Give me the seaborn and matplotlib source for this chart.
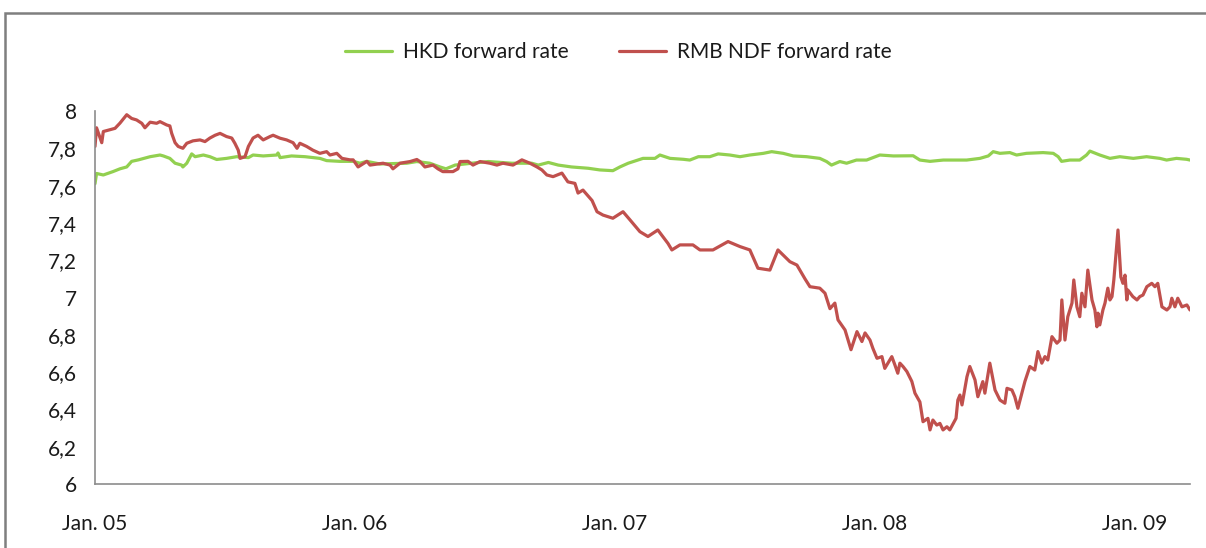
import matplotlib

matplotlib.use("Agg")
import matplotlib.pyplot as plt
import numpy as np
import pandas as pd
import seaborn as sns
from matplotlib.patches import Rectangle
from matplotlib.ticker import FuncFormatter, MultipleLocator

###############
# DATA        #
###############
# time is given in years elapsed since 1 Jan 2005
HKD_YEARS = [
    0.000, 0.006, 0.032, 0.069, 0.096, 0.122, 0.141, 0.167, 0.212, 0.250,
    0.263, 0.288, 0.308, 0.333, 0.338, 0.353, 0.372, 0.385, 0.417, 0.442,
    0.468, 0.506, 0.545, 0.590, 0.608, 0.647, 0.699, 0.704, 0.712, 0.756,
    0.808, 0.865, 0.891, 0.942, 0.994, 1.019, 1.045, 1.096, 1.199, 1.238,
    1.288, 1.327, 1.350, 1.385, 1.449, 1.513, 1.603, 1.680, 1.705, 1.744,
    1.782, 1.833, 1.897, 1.942, 1.992, 2.019, 2.051, 2.108, 2.154, 2.173,
    2.212, 2.263, 2.288, 2.321, 2.365, 2.397, 2.442, 2.481, 2.519, 2.571,
    2.603, 2.647, 2.686, 2.737, 2.788, 2.814, 2.833, 2.865, 2.891, 2.929,
    2.968, 3.019, 3.071, 3.147, 3.173, 3.212, 3.263, 3.353, 3.404, 3.436,
    3.455, 3.481, 3.519, 3.545, 3.583, 3.647, 3.686, 3.705, 3.718, 3.750,
    3.788, 3.814, 3.827, 3.865, 3.904, 3.942, 3.994, 4.045, 4.096, 4.122,
    4.160, 4.199, 4.212,
]
HKD_RATE = [
    7.610, 7.665, 7.657, 7.675, 7.690, 7.700, 7.730, 7.738, 7.755, 7.764,
    7.759, 7.746, 7.720, 7.710, 7.700, 7.720, 7.770, 7.755, 7.764, 7.755,
    7.740, 7.746, 7.755, 7.750, 7.764, 7.759, 7.764, 7.775, 7.750, 7.759,
    7.755, 7.746, 7.734, 7.730, 7.730, 7.720, 7.730, 7.716, 7.720, 7.729,
    7.720, 7.700, 7.690, 7.710, 7.720, 7.729, 7.720, 7.720, 7.710, 7.724,
    7.710, 7.700, 7.693, 7.684, 7.680, 7.700, 7.720, 7.746, 7.746, 7.764,
    7.746, 7.741, 7.737, 7.755, 7.755, 7.770, 7.764, 7.755, 7.764, 7.773,
    7.782, 7.773, 7.759, 7.755, 7.746, 7.729, 7.710, 7.729, 7.720, 7.737,
    7.737, 7.764, 7.759, 7.760, 7.737, 7.730, 7.737, 7.737, 7.746, 7.759,
    7.782, 7.773, 7.777, 7.764, 7.773, 7.777, 7.773, 7.755, 7.730, 7.737,
    7.737, 7.764, 7.785, 7.764, 7.746, 7.755, 7.746, 7.755, 7.746, 7.737,
    7.746, 7.741, 7.737,
]

RMB_YEARS = [
    0.000, 0.006, 0.026, 0.032, 0.058, 0.077, 0.096, 0.122, 0.141, 0.160,
    0.180, 0.192, 0.212, 0.237, 0.250, 0.276, 0.288, 0.295, 0.308, 0.320,
    0.338, 0.353, 0.377, 0.404, 0.423, 0.442, 0.462, 0.481, 0.506, 0.526,
    0.538, 0.551, 0.558, 0.577, 0.590, 0.608, 0.627, 0.647, 0.673, 0.685,
    0.712, 0.737, 0.762, 0.777, 0.788, 0.814, 0.838, 0.865, 0.891, 0.904,
    0.930, 0.950, 0.981, 0.993, 1.012, 1.046, 1.058, 1.108, 1.135, 1.146,
    1.173, 1.212, 1.238, 1.250, 1.269, 1.300, 1.319, 1.338, 1.377, 1.396,
    1.404, 1.435, 1.454, 1.481, 1.519, 1.546, 1.569, 1.608, 1.642, 1.673,
    1.700, 1.719, 1.738, 1.762, 1.796, 1.819, 1.846, 1.858, 1.877, 1.912,
    1.931, 1.954, 1.992, 2.031, 2.058, 2.096, 2.127, 2.165, 2.204, 2.219,
    2.250, 2.300, 2.327, 2.377, 2.435, 2.481, 2.519, 2.550, 2.596, 2.627,
    2.673, 2.700, 2.731, 2.750, 2.788, 2.808, 2.827, 2.846, 2.858, 2.885,
    2.908, 2.931, 2.950, 2.962, 2.981, 2.992, 3.008, 3.027, 3.038, 3.065,
    3.077, 3.088, 3.096, 3.108, 3.123, 3.142, 3.154, 3.173, 3.185, 3.204,
    3.212, 3.223, 3.238, 3.250, 3.262, 3.277, 3.288, 3.312, 3.319, 3.327,
    3.335, 3.354, 3.365, 3.385, 3.396, 3.415, 3.423, 3.442, 3.462, 3.481,
    3.500, 3.508, 3.527, 3.538, 3.550, 3.565, 3.577, 3.596, 3.615, 3.627,
    3.642, 3.654, 3.665, 3.681, 3.700, 3.712, 3.719, 3.731, 3.742, 3.758,
    3.765, 3.777, 3.788, 3.796, 3.808, 3.819, 3.835, 3.846, 3.854, 3.858,
    3.865, 3.877, 3.885, 3.896, 3.904, 3.912, 3.919, 3.935, 3.946, 3.954,
    3.962, 3.969, 3.973, 3.992, 4.008, 4.019, 4.031, 4.046, 4.065, 4.077,
    4.088, 4.104, 4.123, 4.135, 4.142, 4.154, 4.165, 4.181, 4.200, 4.212,
]
RMB_RATE = [
    7.810, 7.910, 7.830, 7.890, 7.900, 7.907, 7.935, 7.980, 7.960, 7.952,
    7.934, 7.910, 7.940, 7.934, 7.943, 7.925, 7.920, 7.880, 7.830, 7.810,
    7.800, 7.827, 7.840, 7.845, 7.836, 7.855, 7.870, 7.880, 7.863, 7.855,
    7.827, 7.790, 7.746, 7.755, 7.810, 7.855, 7.870, 7.845, 7.863, 7.870,
    7.854, 7.845, 7.830, 7.800, 7.827, 7.810, 7.790, 7.773, 7.782, 7.764,
    7.773, 7.746, 7.738, 7.738, 7.700, 7.730, 7.710, 7.720, 7.710, 7.690,
    7.720, 7.729, 7.740, 7.729, 7.700, 7.710, 7.690, 7.675, 7.675, 7.690,
    7.729, 7.730, 7.710, 7.729, 7.720, 7.710, 7.720, 7.710, 7.738, 7.720,
    7.700, 7.684, 7.657, 7.648, 7.667, 7.620, 7.612, 7.560, 7.576, 7.520,
    7.460, 7.442, 7.425, 7.460, 7.416, 7.353, 7.327, 7.362, 7.290, 7.255,
    7.282, 7.282, 7.255, 7.255, 7.300, 7.273, 7.255, 7.157, 7.147, 7.255,
    7.192, 7.174, 7.100, 7.058, 7.050, 7.023, 6.940, 6.970, 6.880, 6.826,
    6.720, 6.817, 6.764, 6.810, 6.772, 6.728, 6.674, 6.683, 6.620, 6.683,
    6.638, 6.594, 6.648, 6.630, 6.603, 6.550, 6.487, 6.440, 6.334, 6.352,
    6.290, 6.343, 6.316, 6.325, 6.290, 6.307, 6.290, 6.352, 6.450, 6.477,
    6.424, 6.575, 6.630, 6.558, 6.468, 6.549, 6.487, 6.648, 6.504, 6.450,
    6.433, 6.513, 6.504, 6.468, 6.406, 6.487, 6.550, 6.630, 6.611, 6.710,
    6.648, 6.683, 6.665, 6.790, 6.755, 6.772, 6.987, 6.772, 6.897, 6.970,
    7.094, 6.950, 6.897, 7.023, 6.950, 7.147, 6.987, 6.933, 6.843, 6.916,
    6.853, 6.933, 6.970, 7.050, 6.987, 7.005, 7.094, 7.362, 7.110, 7.076,
    7.120, 6.987, 7.040, 7.005, 6.987, 7.005, 7.013, 7.058, 7.076, 7.058,
    7.076, 6.950, 6.933, 6.950, 6.996, 6.950, 6.996, 6.950, 6.960, 6.933,
]

SERIES_LABELS = ["HKD forward rate", "RMB NDF forward rate"]
X_TICK_DATES = ["2005-01-01", "2006-01-01", "2007-01-01", "2008-01-01", "2009-01-01"]
X_TICK_LABELS = ["Jan. 05", "Jan. 06", "Jan. 07", "Jan. 08", "Jan. 09"]

###############
# PLOT CONFIG #
###############
START = pd.Timestamp("2005-01-01")
GREEN = "#92D050"
RED = "#C0504D"
AXIS_GREY = "#8C8C8C"
TEXT_COLOR = "#1A1A1A"
FONT_SIZE = 15
LINE_WIDTH = 2.3
W, H = 1206, 548


def years_to_dates(years):
    return START + pd.to_timedelta(np.asarray(years) * 365.25, unit="D")


sns.set_style("white")
plt.rcParams["font.family"] = ["Lato", "DejaVu Sans"]

fig = plt.figure(figsize=(W / 100, H / 100), dpi=100)
ax = fig.add_axes([95 / W, 1 - 484 / H, (1190 - 95) / W, (484 - 111) / H])

hkd_dates = years_to_dates(HKD_YEARS)
rmb_dates = years_to_dates(RMB_YEARS)
sns.lineplot(x=hkd_dates, y=HKD_RATE, ax=ax, color=GREEN, lw=LINE_WIDTH, label=SERIES_LABELS[0])
sns.lineplot(x=rmb_dates, y=RMB_RATE, ax=ax, color=RED, lw=LINE_WIDTH, label=SERIES_LABELS[1])

ax.set_xlim(START, rmb_dates[-1])
ax.set_ylim(6, 8)
ax.yaxis.set_major_locator(MultipleLocator(0.2))
ax.yaxis.set_major_formatter(FuncFormatter(lambda v, _: f"{v:g}".replace(".", ",")))
ax.set_xticks(pd.to_datetime(X_TICK_DATES))
ax.set_xticklabels(X_TICK_LABELS)
ax.set_xlabel("")
ax.set_ylabel("")

for side in ("top", "right"):
    ax.spines[side].set_visible(False)
for side in ("left", "bottom"):
    ax.spines[side].set_color(AXIS_GREY)
    ax.spines[side].set_linewidth(1.2)
ax.tick_params(axis="both", direction="out", colors=AXIS_GREY, width=1.2,
               labelsize=FONT_SIZE, labelcolor=TEXT_COLOR)
ax.tick_params(axis="x", length=6.5, pad=15)
ax.tick_params(axis="y", length=6, pad=7)
ax.grid(False)

# legend on top, centred over the chart
ax.legend(
    loc="center",
    bbox_to_anchor=(618 / W, 1 - 52 / H),
    bbox_transform=fig.transFigure,
    ncol=2,
    frameon=False,
    fontsize=FONT_SIZE,
    handlelength=2.3,
    handletextpad=0.5,
    columnspacing=2.4,
    labelcolor=TEXT_COLOR,
)

# outer chart frame (Excel style)
fig.patches.append(
    Rectangle((4.5 / W, -0.1), 1.2, 1.1 - 13.5 / H, transform=fig.transFigure,
              fill=False, edgecolor="#7F7F7F", lw=1.8)
)

fig.savefig("out.png", dpi=100)
